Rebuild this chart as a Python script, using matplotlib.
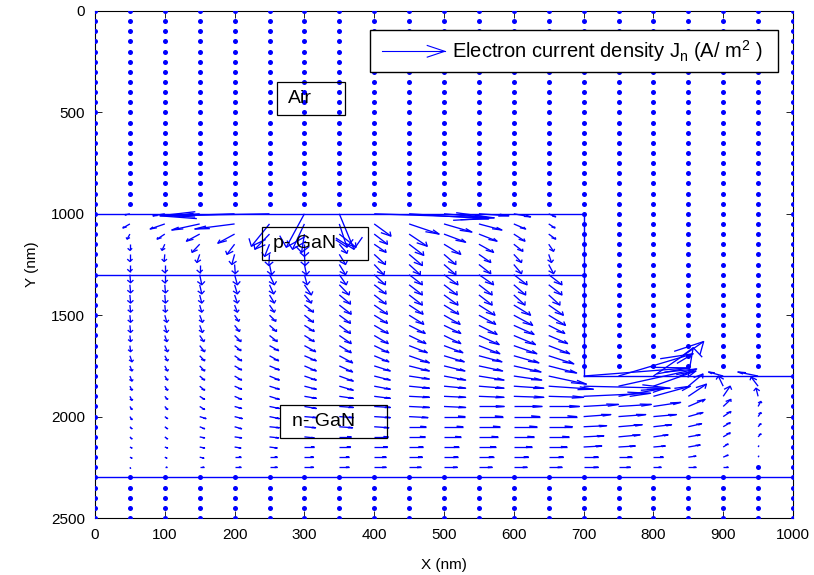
import numpy as np
import matplotlib
matplotlib.use('Agg')
import matplotlib.pyplot as plt
from matplotlib.collections import LineCollection
from matplotlib.patches import Rectangle

plt.rcParams['font.family'] = ['Liberation Sans', 'DejaVu Sans']

# grid nodes (nm)
x_nodes = list(range(0, 1001, 50))
y_nodes = list(range(0, 2501, 50))

# vector table: rows y=1000..2250, columns x=50..950 (data-unit displacement, nm)
table_cols = list(range(50, 951, 50))
table_rows = list(range(1000, 2251, 50))

Jx = [
    [-7, -17, -43, -86, -157, -26, 21, 172, 114, 64, 43, 24, 10, 0, 0, 0, 0, 0, 0],
    [-10, -21, -40, -57, -26, -17, 11, 24, 43, 40, 33, 17, 9, 0, 0, 0, 0, 0, 0],
    [-4, -11, -19, -24, -21, -4, 24, 19, 26, 31, 26, 16, 10, 0, 0, 0, 0, 0, 0],
    [0, -4, -11, -11, -7, 0, 11, 17, 21, 24, 21, 13, 7, 0, 0, 0, 0, 0, 0],
    [0, -1, -4, -4, -1, 1, 9, 16, 19, 17, 17, 11, 4, 0, 0, 0, 0, 0, 0],
    [0, 0, 0, 1, 3, 3, 9, 14, 16, 17, 17, 11, 7, 0, 0, 0, 0, 0, 0],
    [1, 0, 3, 4, 7, 4, 10, 16, 19, 20, 21, 19, 19, 0, 0, 0, 0, 0, 0],
    [1, 1, 3, 4, 6, 10, 14, 17, 19, 19, 19, 17, 19, 0, 0, 0, 0, 0, 0],
    [1, 1, 3, 4, 7, 10, 16, 17, 19, 20, 19, 16, 16, 0, 0, 0, 0, 0, 0],
    [1, 1, 3, 4, 7, 13, 17, 19, 20, 21, 23, 24, 21, 0, 0, 0, 0, 0, 0],
    [1, 3, 4, 6, 9, 13, 16, 19, 21, 23, 24, 27, 24, 0, 0, 0, 0, 0, 0],
    [1, 3, 4, 7, 10, 14, 16, 20, 23, 24, 26, 29, 23, 0, 0, 0, 0, 0, 0],
    [1, 3, 6, 9, 11, 14, 17, 20, 24, 24, 29, 31, 27, 0, 0, 0, 0, 0, 0],
    [1, 4, 7, 9, 13, 16, 17, 21, 26, 27, 30, 33, 30, 0, 0, 0, 0, 0, 0],
    [3, 4, 7, 10, 13, 17, 19, 21, 29, 29, 33, 36, 36, 0, 0, 0, 0, 0, 0],
    [3, 4, 7, 10, 14, 17, 19, 23, 29, 30, 34, 39, 40, 0, 0, 0, 0, 0, 0],
    [3, 4, 7, 10, 14, 17, 20, 23, 29, 31, 36, 40, 54, 150, 107, 72, 7, -21, -29],
    [3, 4, 7, 10, 14, 17, 20, 23, 29, 31, 36, 43, 64, 124, 112, 61, 21, -7, -10],
    [3, 4, 7, 10, 14, 17, 20, 23, 29, 31, 36, 43, 50, 96, 67, 53, 26, 10, -3],
    [3, 4, 7, 10, 14, 17, 20, 23, 29, 31, 36, 40, 44, 50, 47, 39, 24, 11, 4],
    [3, 4, 9, 11, 14, 17, 20, 23, 27, 30, 34, 37, 40, 39, 39, 33, 21, 11, 4],
    [3, 4, 7, 10, 14, 16, 19, 21, 24, 27, 30, 33, 34, 33, 34, 26, 19, 10, 4],
    [3, 4, 7, 10, 13, 14, 17, 20, 23, 24, 27, 29, 29, 29, 31, 21, 17, 10, 4],
    [3, 4, 7, 9, 11, 14, 16, 19, 20, 21, 24, 26, 26, 26, 24, 17, 17, 7, 1],
    [3, 3, 6, 9, 11, 13, 14, 17, 19, 20, 21, 21, 21, 21, 19, 14, 11, 7, 1],
    [1, 3, 6, 9, 11, 13, 14, 17, 17, 19, 19, 19, 19, 21, 17, 11, 11, 7, 0],
]
Jy = [
    [5, 10, 10, 10, 10, 165, 175, 20, 25, 20, 10, 15, 15, 0, 0, 0, 0, 0, 0],
    [20, 25, 30, 25, 110, 125, 115, 60, 50, 40, 30, 25, 20, 0, 0, 0, 0, 0, 0],
    [25, 25, 35, 45, 75, 90, 65, 50, 60, 40, 35, 35, 25, 0, 0, 0, 0, 0, 0],
    [30, 30, 40, 50, 60, 60, 45, 40, 55, 50, 40, 35, 35, 0, 0, 0, 0, 0, 0],
    [35, 35, 40, 50, 55, 55, 50, 50, 55, 50, 40, 40, 40, 0, 0, 0, 0, 0, 0],
    [35, 40, 40, 45, 50, 50, 50, 50, 50, 50, 45, 45, 45, 0, 0, 0, 0, 0, 0],
    [40, 40, 50, 50, 50, 50, 50, 50, 50, 50, 50, 50, 50, 0, 0, 0, 0, 0, 0],
    [40, 40, 45, 45, 45, 50, 50, 45, 50, 50, 50, 50, 50, 0, 0, 0, 0, 0, 0],
    [40, 40, 40, 40, 40, 40, 45, 45, 50, 50, 50, 50, 50, 0, 0, 0, 0, 0, 0],
    [35, 35, 35, 35, 35, 35, 45, 45, 45, 45, 50, 50, 50, 0, 0, 0, 0, 0, 0],
    [35, 35, 35, 30, 30, 35, 40, 40, 45, 45, 45, 50, 50, 0, 0, 0, 0, 0, 0],
    [35, 35, 35, 30, 30, 30, 40, 40, 40, 40, 45, 45, 40, 0, 0, 0, 0, 0, 0],
    [30, 30, 30, 30, 30, 30, 40, 40, 40, 40, 45, 45, 40, 0, 0, 0, 0, 0, 0],
    [30, 30, 30, 25, 25, 30, 35, 35, 35, 35, 40, 40, 40, 0, 0, 0, 0, 0, 0],
    [30, 25, 25, 25, 25, 25, 35, 30, 35, 30, 30, 35, 40, 0, 0, 0, 0, 0, 0],
    [25, 25, 25, 20, 20, 25, 30, 25, 25, 25, 25, 30, 35, 0, 0, 0, 0, 0, 0],
    [25, 20, 20, 20, 20, 20, 25, 20, 15, 20, 20, 20, 40, -40, -110, -170, -140, -20, -20],
    [20, 20, 20, 15, 15, 15, 20, 15, 10, 10, 10, 10, 15, 10, -85, -75, -60, -50, -45],
    [20, 15, 15, 15, 15, 10, 10, 10, 5, 5, 5, 5, 5, -15, -40, -50, -60, -50, -40],
    [15, 15, 15, 10, 10, 10, 5, 5, 5, 5, 0, 0, 0, -10, -10, -20, -35, -35, -25],
    [15, 10, 10, 10, 10, 5, 5, 5, 5, 0, 0, 0, 0, -10, -10, -10, -20, -25, -20],
    [10, 10, 10, 10, 5, 5, 5, 5, 0, 0, 0, 0, 0, -5, -10, -10, -15, -20, -15],
    [10, 10, 5, 5, 5, 5, 0, 0, 0, 0, 0, 0, 0, -5, -10, -10, -10, -20, -15],
    [5, 5, 5, 5, 5, 0, 0, 0, 0, 0, 0, 0, 0, -5, -5, -5, -10, -15, -5],
    [5, 5, 5, 0, 0, 0, 0, 0, 0, 0, 0, 0, 0, 0, 0, 0, -5, -10, -5],
    [5, 0, 0, 0, 0, 0, 0, 0, 0, 0, 0, 0, 0, 0, 0, 0, 0, 0, 0],
]

# structure boundaries (nm)
surface_y, pn_y, mesa_x, contact_y, bottom_y = 1000, 1300, 700, 1800, 2300

# full grid
X, Y = np.meshgrid(np.array(x_nodes, float), np.array(y_nodes, float))
U = np.zeros_like(X)
V = np.zeros_like(Y)
for i, yr in enumerate(table_rows):
    ri = y_nodes.index(yr)
    for j, xc in enumerate(table_cols):
        cj = x_nodes.index(xc)
        U[ri, cj] = Jx[i][j]
        V[ri, cj] = Jy[i][j]

fig = plt.figure(figsize=(8.14, 5.75), dpi=100)
ax = fig.add_axes([95/814, 57/575, 698/814, 507/575])
ax.set_xlim(0, 1000)
ax.set_ylim(2500, 0)

blue = (0, 0, 1)

# MATLAB-style quiver (shaft + open head computed in data units)
alpha, beta = 0.33, 0.33
x = X.ravel(); y = Y.ravel(); u = U.ravel(); v = V.ravel()
nz = (u != 0) | (v != 0)
segs = []
for xi, yi, ui, vi in zip(x[nz], y[nz], u[nz], v[nz]):
    tx, ty = xi + ui, yi + vi
    segs.append([(xi, yi), (tx, ty)])
    h1 = (tx - alpha * (ui + beta * vi), ty - alpha * (vi - beta * ui))
    h2 = (tx - alpha * (ui - beta * vi), ty - alpha * (vi + beta * ui))
    segs.append([h1, (tx, ty), h2])
lc = LineCollection(segs, colors=[blue], linewidths=0.95, zorder=3)
ax.add_collection(lc)

# zero vectors appear as dots
ax.plot(x[~nz], y[~nz], 'o', ms=3.6, color=blue, mec='none', zorder=3)

# structure lines
lw = 1.0
ax.plot([0, mesa_x], [surface_y, surface_y], color=blue, lw=lw, zorder=2)
ax.plot([0, mesa_x], [pn_y, pn_y], color=blue, lw=lw, zorder=2)
ax.plot([mesa_x, mesa_x], [surface_y, contact_y], color=blue, lw=lw, zorder=2)
ax.plot([mesa_x, 1000], [contact_y, contact_y], color=blue, lw=lw, zorder=2)
ax.plot([0, 1000], [bottom_y, bottom_y], color=blue, lw=lw, zorder=2)

# region labels with boxes
regions = [("Air", 261, 350, 97, 163, 276),
           ("p- GaN", 239, 1065, 152, 163, 255),
           ("n- GaN", 265, 1943, 153, 162, 282)]
for label, bx, by, bw, bh, tx in regions:
    ax.add_patch(Rectangle((bx, by), bw, bh, fill=False, ec='black', lw=0.9, zorder=4))
    ax.text(tx, by + bh / 2, label, fontsize=14, va='center', ha='left', zorder=5)

# legend
ax.add_patch(Rectangle((0.394, 0.88), 0.584, 0.083, transform=ax.transAxes,
                       fc='white', ec='black', lw=1.0, zorder=6))
ax.plot([0.411, 0.501], [0.9205, 0.9205], transform=ax.transAxes, color=blue, lw=0.8, zorder=7)
ax.plot([0.476, 0.501, 0.476], [0.932, 0.9205, 0.909], transform=ax.transAxes, color=blue, lw=0.8, zorder=7)
ax.text(0.511, 0.9205, r'Electron current density J$_\mathregular{n}$ (A/ m$^\mathregular{2}$ )',
        transform=ax.transAxes, fontsize=14.5, va='center', ha='left', zorder=7)

ax.set_xticks(range(0, 1001, 100))
ax.set_yticks(range(0, 2501, 500))
ax.tick_params(direction='in', top=True, right=True, length=5, labelsize=11, width=0.6, pad=7)
for s in ax.spines.values():
    s.set_linewidth(0.8)
ax.set_xlabel('X (nm)', fontsize=11, labelpad=12)
ax.set_ylabel('Y (nm)', fontsize=11, labelpad=9)

fig.savefig('out.png', dpi=100)
